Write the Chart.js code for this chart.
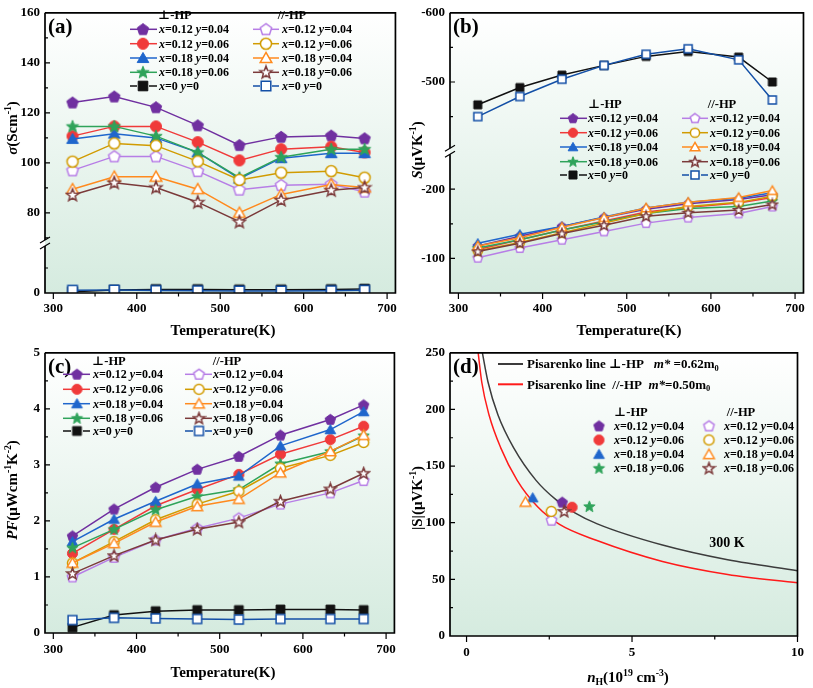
<!DOCTYPE html>
<html>
<head>
<meta charset="utf-8">
<script src="https://cdn.jsdelivr.net/npm/chart.js@4.4.1/dist/chart.umd.min.js"></script>
<style>
html, body { margin: 0; padding: 0; background: #fff; }
#wrap { position: relative; width: 813px; height: 688px; overflow: hidden; }
canvas { position: absolute; }
</style>
</head>
<body>
<div id="wrap">
  <canvas id="chA" width="405" height="340" style="left:0;top:0"></canvas>
  <canvas id="chB" width="408" height="340" style="left:405px;top:0"></canvas>
  <canvas id="chC" width="405" height="348" style="left:0;top:340px"></canvas>
  <canvas id="chD" width="408" height="348" style="left:405px;top:340px"></canvas>
</div>
<script>
const FONT = "'Liberation Serif', 'DejaVu Serif', 'Times New Roman', serif";
Chart.defaults.font.family = FONT;
Chart.defaults.font.weight = 'bold';
Chart.defaults.color = '#000';

// ---------- data ----------
const temps = [323, 373, 423, 473, 523, 573, 633, 673];
const seriesLabels = ['x=0.12 y=0.04', 'x=0.12 y=0.06', 'x=0.18 y=0.04', 'x=0.18 y=0.06', 'x=0 y=0',
                      'x=0.12 y=0.04', 'x=0.12 y=0.06', 'x=0.18 y=0.04', 'x=0.18 y=0.06', 'x=0 y=0'];
const tempLabels = [300, 400, 500, 600, 700];

// (a) electrical conductivity, S/cm
const sigmaPerp1204 = [124.1, 126.5, 122.2, 115.0, 107.1, 110.4, 110.9, 109.8];
const sigmaPerp1206 = [110.7, 114.6, 114.6, 108.3, 101.0, 105.5, 106.5, 104.2];
const sigmaPerp1804 = [109.6, 111.7, 110.0, 104.2, 93.7, 101.9, 103.9, 103.9];
const sigmaPerp1806 = [114.6, 114.6, 110.7, 104.2, 94.1, 102.3, 105.5, 105.5];
const sigmaPerp00   = [0.5, 1.2, 1.4, 1.4, 1.3, 1.3, 1.4, 1.6];
const sigmaPar1204  = [97.0, 102.6, 102.6, 96.7, 89.3, 91.1, 91.5, 88.5];
const sigmaPar1206  = [100.5, 107.8, 106.9, 100.6, 93.2, 96.1, 96.7, 94.1];
const sigmaPar1804  = [89.5, 94.5, 94.5, 89.5, 80.1, 87.4, 91.4, 90.2];
const sigmaPar1806  = [87.2, 92.1, 90.2, 84.3, 76.5, 85.2, 89.1, 90.2];
const sigmaPar00    = [1.1, 1.2, 1.0, 0.9, 0.8, 0.8, 0.9, 1.1];
const sigmaTopLabels = [80, 100, 120, 140, 160];
const sigmaBotLabels = [0];

// (b) Seebeck coefficient, uV/K
const seebeckPerp1204 = [-118, -132, -146, -159, -171, -179, -185, -192];
const seebeckPerp1206 = [-113, -127, -141, -154, -167, -174, -180, -188];
const seebeckPerp1804 = [-122, -135, -146, -160, -173, -181, -187, -195];
const seebeckPerp1806 = [-115, -127, -141, -153, -165, -172, -175, -183];
const seebeckPerp00   = [-467, -492, -510, -524, -537, -544, -536, -500];
const seebeckPar1204  = [-101, -115, -127, -139, -151, -159, -165, -175];
const seebeckPar1206  = [-111, -123, -137, -151, -165, -175, -181, -190];
const seebeckPar1804  = [-118, -130, -145, -159, -173, -181, -188, -198];
const seebeckPar1806  = [-110, -122, -136, -148, -161, -166, -170, -178];
const seebeckPar00    = [-450, -479, -504, -524, -540, -548, -532, -474];
const seebeckTopLabels = [-600, -500];
const seebeckBotLabels = [-200, -100];

// (c) power factor, uW cm^-1 K^-2
const pfPerp1204 = [1.73, 2.21, 2.60, 2.92, 3.15, 3.53, 3.81, 4.07];
const pfPerp1206 = [1.42, 1.85, 2.27, 2.56, 2.83, 3.19, 3.45, 3.69];
const pfPerp1804 = [1.63, 2.03, 2.35, 2.66, 2.80, 3.34, 3.63, 3.95];
const pfPerp1806 = [1.52, 1.85, 2.20, 2.44, 2.56, 3.02, 3.24, 3.52];
const pfPerp00   = [0.10, 0.32, 0.39, 0.41, 0.41, 0.42, 0.42, 0.41];
const pfPar1204  = [1.00, 1.35, 1.66, 1.87, 2.05, 2.30, 2.50, 2.72];
const pfPar1206  = [1.25, 1.63, 2.02, 2.30, 2.53, 2.94, 3.17, 3.40];
const pfPar1804  = [1.25, 1.60, 1.98, 2.26, 2.39, 2.86, 3.24, 3.53];
const pfPar1806  = [1.06, 1.38, 1.66, 1.85, 1.98, 2.35, 2.57, 2.85];
const pfPar00    = [0.23, 0.27, 0.26, 0.25, 0.24, 0.25, 0.25, 0.25];
const pfLabels = [0, 1, 2, 3, 4, 5];

// (d) |S| vs carrier concentration at 300 K
const nH300   = [2.89, 3.19, 2.00, 3.71, 2.57, 2.56, 1.78, 2.95];
const sAbs300 = [118.1, 113.7, 122.0, 114.3, 102.2, 110.0, 118.3, 110.0];
const pisarenkoPerpN = [0.46, 0.65, 0.95, 1.42, 2.10, 2.71, 3.26, 3.95, 5.92, 7.89, 10];
const pisarenkoPerpS = [252.9, 224, 195.1, 166.3, 137.4, 120.1, 109, 99, 80.3, 67.3, 57.7];
const pisarenkoParN  = [0.34, 0.46, 0.68, 1.03, 1.53, 2.14, 2.81, 3.92, 5.92, 7.89, 10];
const pisarenkoParS  = [252.9, 224, 195.1, 166.3, 137.4, 114.3, 98.5, 84.5, 65.8, 54.3, 47];
const nHLabels = [0, 5, 10];
const sAbsLabels = [0, 50, 100, 150, 200, 250];

// ---------- styles ----------
const seriesColors = ['#7030a0', '#f03a3a', '#1f66cc', '#2fa35a', '#111111',
                      '#b77ee6', '#d19b00', '#ff8a1e', '#7b3a3a', '#134fa6'];
const seriesShapes = ['pentagon', 'circle', 'triangle', 'star', 'square',
                      'pentagon', 'circle', 'triangle', 'star', 'square'];
const seriesFilled = [true, true, true, true, true, false, false, false, false, false];

function makeMarker(shape, color, filled, size) {
    const c = document.createElement('canvas');
    const dim = Math.ceil(size + 4);
    c.width = dim; c.height = dim;
    const g = c.getContext('2d');
    const cx = dim / 2, cy = dim / 2, r = size / 2;
    g.beginPath();
    if (shape === 'circle') {
        g.arc(cx, cy, r * 0.92, 0, Math.PI * 2);
    } else if (shape === 'square') {
        g.rect(cx - r * 0.8, cy - r * 0.8, r * 1.6, r * 1.6);
    } else {
        let n = 5, radii = [r], oy = r * 0.06;
        if (shape === 'triangle') { n = 3; radii = [r * 1.12]; oy = r * 0.2; }
        if (shape === 'star') { n = 10; radii = [r * 1.08, r * 0.46]; oy = r * 0.06; }
        for (let k = 0; k < n; k++) {
            const ang = -Math.PI / 2 + k * 2 * Math.PI / n;
            const rr = radii[k % radii.length];
            const px = cx + rr * Math.cos(ang), py = cy + oy + rr * Math.sin(ang);
            if (k === 0) g.moveTo(px, py); else g.lineTo(px, py);
        }
    }
    g.closePath();
    g.fillStyle = filled ? color : '#ffffff';
    g.fill();
    g.lineWidth = filled ? 1 : 1.5;
    g.strokeStyle = color;
    g.stroke();
    return c;
}

function markersFor(size) {
    return seriesColors.map((c, i) => makeMarker(seriesShapes[i], c, seriesFilled[i], size));
}

// ---------- text helpers ----------
function segFont(s, size) {
    const sz = (s.sup || s.sub) ? size * 0.65 : size;
    return `${s.i ? 'italic ' : ''}bold ${sz}px ${FONT}`;
}

function drawRich(ctx, segs, x, y, size, align) {
    ctx.save();
    ctx.textBaseline = 'alphabetic';
    ctx.textAlign = 'left';
    ctx.fillStyle = '#000';
    let w = 0;
    segs.forEach(s => { ctx.font = segFont(s, size); w += ctx.measureText(s.t).width; });
    let cx = align === 'center' ? x - w / 2 : x;
    const base = y + size * 0.33;
    segs.forEach(s => {
        ctx.font = segFont(s, size);
        let dy = 0;
        if (s.sup) dy = -size * 0.4;
        if (s.sub) dy = size * 0.22;
        ctx.fillText(s.t, cx, base + dy);
        cx += ctx.measureText(s.t).width;
    });
    ctx.restore();
}

function labelSegs(label) {
    return label.split(/([xy])/).filter(Boolean).map(p => (p === 'x' || p === 'y') ? {t: p, i: true} : {t: p});
}

// ---------- panel decoration plugin ----------
const panelCfg = {};

const panelPlugin = {
    id: 'panelDeco',
    beforeDraw(chart) {
        const {ctx, chartArea: a} = chart;
        const g = ctx.createLinearGradient(0, a.top, 0, a.bottom);
        g.addColorStop(0, '#ffffff');
        g.addColorStop(1, '#d5ebdf');
        ctx.save();
        ctx.fillStyle = g;
        ctx.fillRect(a.left, a.top, a.right - a.left, a.bottom - a.top);
        ctx.restore();
    },
    afterDraw(chart) {
        const cfg = panelCfg[chart.canvas.id];
        const {ctx, chartArea: a} = chart;
        const by = cfg.breakScale ? chart.scales[cfg.breakScale].bottom : null;

        ctx.save();
        ctx.strokeStyle = '#000';
        ctx.lineWidth = 1.7;
        ctx.beginPath();
        ctx.moveTo(a.left, a.top);
        ctx.lineTo(a.right, a.top);
        ctx.lineTo(a.right, a.bottom);
        ctx.lineTo(a.left, a.bottom);
        if (by !== null) {
            ctx.lineTo(a.left, by + 3);
            ctx.moveTo(a.left, by - 3);
        }
        ctx.lineTo(a.left, a.top);
        ctx.stroke();

        if (by !== null) {
            ctx.lineWidth = 1.2;
            ctx.beginPath();
            [-3, 3].forEach(off => {
                ctx.moveTo(a.left - 5, by + off + 3);
                ctx.lineTo(a.left + 5, by + off - 3);
            });
            ctx.stroke();
        }

        // tick marks: y inward, x outward
        ctx.lineWidth = 1.2;
        ctx.beginPath();
        Object.values(chart.scales).forEach(s => {
            s.ticks.forEach(t => {
                const major = t.label !== '' && t.label !== undefined;
                const p = s.getPixelForValue(t.value);
                if (s.axis === 'x') {
                    const len = major ? 6 : 3.5;
                    ctx.moveTo(p, a.bottom);
                    ctx.lineTo(p, a.bottom + len);
                } else {
                    if (by !== null && Math.abs(p - by) < 5) return;
                    if (Math.abs(p - a.top) < 1 || Math.abs(p - a.bottom) < 1) return;
                    const len = major ? 5 : 3;
                    ctx.moveTo(a.left, p);
                    ctx.lineTo(a.left + len, p);
                }
            });
        });
        ctx.stroke();
        ctx.restore();

        // panel tag and axis titles
        drawRich(ctx, [{t: cfg.tag}], a.left + 3, a.top + 13, 21, 'left');
        drawRich(ctx, cfg.xTitle, cfg.xTitlePos[0], cfg.xTitlePos[1], 15, 'center');
        ctx.save();
        ctx.translate(cfg.yTitlePos[0], cfg.yTitlePos[1]);
        ctx.rotate(-Math.PI / 2);
        drawRich(ctx, cfg.yTitle, 0, 0, 15, 'center');
        ctx.restore();

        // legend
        const lg = cfg.legend;
        lg.headers.forEach((h, k) => drawRich(ctx, [{t: h}], lg.headerX[k], lg.headerY, 12.5, 'center'));
        lg.items.forEach(it => {
            const ds = chart.data.datasets[it.ds];
            const col = lg.cols[it.col];
            const y = lg.rowY[it.row];
            if (lg.lines) {
                ctx.save();
                ctx.strokeStyle = ds.borderColor;
                ctx.lineWidth = ds.borderWidth;
                ctx.beginPath();
                if (ds.legendGap) {
                    ctx.moveTo(col.x1, y); ctx.lineTo(col.m - 6, y);
                    ctx.moveTo(col.m + 6, y); ctx.lineTo(col.x2, y);
                } else {
                    ctx.moveTo(col.x1, y); ctx.lineTo(col.x2, y);
                }
                ctx.stroke();
                ctx.restore();
            }
            const img = ds.pointStyle;
            ctx.drawImage(img, col.m - img.width / 2, y - img.height / 2);
            drawRich(ctx, labelSegs(ds.label), col.t, y, 12, 'left');
        });
        (cfg.lineLegend || []).forEach(it => {
            const ds = chart.data.datasets[it.ds];
            ctx.save();
            ctx.strokeStyle = ds.borderColor;
            ctx.lineWidth = 2;
            ctx.beginPath();
            ctx.moveTo(it.x1, it.y); ctx.lineTo(it.x2, it.y);
            ctx.stroke();
            ctx.restore();
            drawRich(ctx, it.segs, it.tx, it.y, 13, 'left');
        });
        (cfg.notes || []).forEach(n => drawRich(ctx, n.segs, n.x, n.y, n.size, 'center'));
    }
};

// ---------- scale factories ----------
const tickFont = {size: 13, weight: 'bold'};

function linAxis(min, max, step, labels, extra) {
    return Object.assign({
        type: 'linear',
        min: min,
        max: max,
        ticks: {
            stepSize: step, includeBounds: false, autoSkip: false, maxRotation: 0,
            color: '#000', font: tickFont,
            callback: v => labels.includes(v) ? v : ''
        },
        grid: {display: false, drawTicks: false},
        border: {display: false}
    }, extra);
}

function xAxis(min, max, step, labels, height, pad) {
    const ax = linAxis(min, max, step, labels, {position: 'bottom'});
    ax.ticks.padding = pad;
    ax.afterFit = s => { s.height = height; };
    return ax;
}

function yAxis(min, max, step, labels, extra) {
    const ax = linAxis(min, max, step, labels, Object.assign({position: 'left'}, extra));
    ax.ticks.padding = 5;
    ax.afterFit = s => { s.width = 45; };
    return ax;
}

function tempDatasets(arrays, markers, axisFor) {
    return arrays.map((arr, i) => ({
        label: seriesLabels[i],
        data: temps.map((t, k) => ({x: t, y: arr[k]})),
        borderColor: seriesColors[i],
        backgroundColor: seriesColors[i],
        borderWidth: 1.5,
        pointStyle: markers[i],
        pointRadius: 5,
        yAxisID: axisFor(i),
        order: arrays.length - i,
        legendGap: seriesShapes[i] === 'square'
    }));
}

function tempLegendItems() {
    return seriesLabels.map((_, i) => ({ds: i, col: i < 5 ? 0 : 1, row: i % 5}));
}

function baseOptions(scales, padRight) {
    return {
        responsive: false,
        animation: false,
        devicePixelRatio: 1,
        layout: {padding: {top: 7, right: padRight, left: 0, bottom: 0}},
        plugins: {legend: {display: false}, tooltip: {enabled: false}},
        scales: scales
    };
}

const tempTitle = [{t: 'Temperature(K)'}];

// ---------- (a) ----------
panelCfg.chA = {
    tag: '(a)',
    breakScale: 'yTop',
    xTitle: tempTitle, xTitlePos: [223, 330],
    yTitle: [{t: 'σ', i: true}, {t: '(Scm'}, {t: '-1', sup: true}, {t: ')'}], yTitlePos: [12, 128],
    legend: {
        headers: ['⊥-HP', '//-HP'], headerX: [175, 292], headerY: 15,
        rowY: [29.3, 43.7, 58, 72.3, 86],
        cols: [{x1: 130, x2: 157, m: 143, t: 159}, {x1: 253, x2: 279, m: 266, t: 282}],
        items: tempLegendItems(), lines: true
    }
};
new Chart(document.getElementById('chA'), {
    type: 'line',
    data: {datasets: tempDatasets(
        [sigmaPerp1204, sigmaPerp1206, sigmaPerp1804, sigmaPerp1806, sigmaPerp00,
         sigmaPar1204, sigmaPar1206, sigmaPar1804, sigmaPar1806, sigmaPar00],
        markersFor(12), i => (i % 5 === 4) ? 'yBot' : 'yTop')},
    options: baseOptions({
        x: xAxis(290, 710, 50, tempLabels, 47, 8),
        yTop: yAxis(68, 160, 10, sigmaTopLabels, {stack: 'sigma', stackWeight: 92, weight: 1}),
        yBot: yAxis(0, 20, 10, sigmaBotLabels, {stack: 'sigma', stackWeight: 20, weight: 0})
    }, 5),
    plugins: [panelPlugin]
});

// ---------- (b) ----------
panelCfg.chB = {
    tag: '(b)',
    breakScale: 'yTop',
    xTitle: tempTitle, xTitlePos: [224, 330],
    yTitle: [{t: 'S', i: true}, {t: '(μVK'}, {t: '-1', sup: true}, {t: ')'}], yTitlePos: [12, 150],
    legend: {
        headers: ['⊥-HP', '//-HP'], headerX: [200, 317], headerY: 104,
        rowY: [118.3, 132.7, 147, 161.7, 175],
        cols: [{x1: 155, x2: 182, m: 168, t: 183}, {x1: 277, x2: 303, m: 290, t: 305}],
        items: tempLegendItems(), lines: true
    }
};
new Chart(document.getElementById('chB'), {
    type: 'line',
    data: {datasets: tempDatasets(
        [seebeckPerp1204, seebeckPerp1206, seebeckPerp1804, seebeckPerp1806, seebeckPerp00,
         seebeckPar1204, seebeckPar1206, seebeckPar1804, seebeckPar1806, seebeckPar00],
        markersFor(10), i => (i % 5 === 4) ? 'yTop' : 'yBot')},
    options: baseOptions({
        x: xAxis(290, 710, 50, tempLabels, 47, 8),
        yTop: yAxis(-600, -400, 50, seebeckTopLabels, {reverse: true, stack: 'seebeck', stackWeight: 200, weight: 1}),
        yBot: yAxis(-255, -50, 50, seebeckBotLabels, {reverse: true, stack: 'seebeck', stackWeight: 205, weight: 0})
    }, 8),
    plugins: [panelPlugin]
});

// ---------- (c) ----------
panelCfg.chC = {
    tag: '(c)',
    xTitle: tempTitle, xTitlePos: [223, 332],
    yTitle: [{t: 'PF', i: true}, {t: '(μWcm'}, {t: '-1', sup: true}, {t: 'K'}, {t: '-2', sup: true}, {t: ')'}],
    yTitlePos: [12, 150],
    legend: {
        headers: ['⊥-HP', '//-HP'], headerX: [109, 227], headerY: 21,
        rowY: [34.3, 49.3, 63.7, 78.3, 91],
        cols: [{x1: 63, x2: 90, m: 77, t: 93}, {x1: 185, x2: 212, m: 199, t: 213}],
        items: tempLegendItems(), lines: true
    }
};
new Chart(document.getElementById('chC'), {
    type: 'line',
    data: {datasets: tempDatasets(
        [pfPerp1204, pfPerp1206, pfPerp1804, pfPerp1806, pfPerp00,
         pfPar1204, pfPar1206, pfPar1804, pfPar1806, pfPar00],
        markersFor(11), () => 'y')},
    options: baseOptions({
        x: xAxis(290, 710, 50, tempLabels, 55, 9),
        y: yAxis(0, 5, 0.5, pfLabels, {})
    }, 5),
    plugins: [panelPlugin]
});

// ---------- (d) ----------
const markersD = markersFor(11);
const dDatasets = [
    {label: 'Pisarenko line ⊥-HP', data: pisarenkoPerpN.map((n, k) => ({x: n, y: pisarenkoPerpS[k]})),
     showLine: true, borderColor: '#3c3c3c', borderWidth: 1.5, pointRadius: 0,
     cubicInterpolationMode: 'monotone', order: 30},
    {label: 'Pisarenko line //-HP', data: pisarenkoParN.map((n, k) => ({x: n, y: pisarenkoParS[k]})),
     showLine: true, borderColor: '#ff1a1a', borderWidth: 1.5, pointRadius: 0,
     cubicInterpolationMode: 'monotone', order: 29}
];
[0, 1, 2, 3, 5, 6, 7, 8].forEach((s, k) => {
    dDatasets.push({
        label: seriesLabels[s],
        data: [{x: nH300[k], y: sAbs300[k]}],
        showLine: false,
        borderColor: seriesColors[s], backgroundColor: seriesColors[s],
        pointStyle: markersD[s], pointRadius: 5,
        order: 10 - k
    });
});
panelCfg.chD = {
    tag: '(d)',
    xTitle: [{t: 'n', i: true}, {t: 'H', sub: true}, {t: '(10'}, {t: '19', sup: true}, {t: ' cm'}, {t: '-3', sup: true}, {t: ')'}],
    xTitlePos: [223, 337],
    yTitle: [{t: '|S|(μVK'}, {t: '-1', sup: true}, {t: ')'}], yTitlePos: [12, 158],
    legend: {
        headers: ['⊥-HP', '//-HP'], headerX: [226, 336], headerY: 71.7,
        rowY: [86, 100, 114.3, 128.3],
        cols: [{m: 194, t: 209}, {m: 304, t: 319}],
        items: [2, 3, 4, 5, 6, 7, 8, 9].map((d, k) => ({ds: d, col: k < 4 ? 0 : 1, row: k % 4})),
        lines: false
    },
    lineLegend: [
        {ds: 0, x1: 93, x2: 118, y: 24, tx: 122,
         segs: [{t: 'Pisarenko line ⊥-HP   '}, {t: 'm*', i: true}, {t: ' =0.62m'}, {t: '0', sub: true}]},
        {ds: 1, x1: 93, x2: 118, y: 44.3, tx: 122,
         segs: [{t: 'Pisarenko line  //-HP  '}, {t: 'm*', i: true}, {t: '=0.50m'}, {t: '0', sub: true}]}
    ],
    notes: [{segs: [{t: '300 K'}], x: 322, y: 202, size: 14}]
};
new Chart(document.getElementById('chD'), {
    type: 'scatter',
    data: {datasets: dDatasets},
    options: baseOptions({
        x: xAxis(-0.5, 10, 2.5, nHLabels, 52, 9),
        y: yAxis(0, 250, 25, sAbsLabels, {})
    }, 9),
    plugins: [panelPlugin]
});
</script>
</body>
</html>
